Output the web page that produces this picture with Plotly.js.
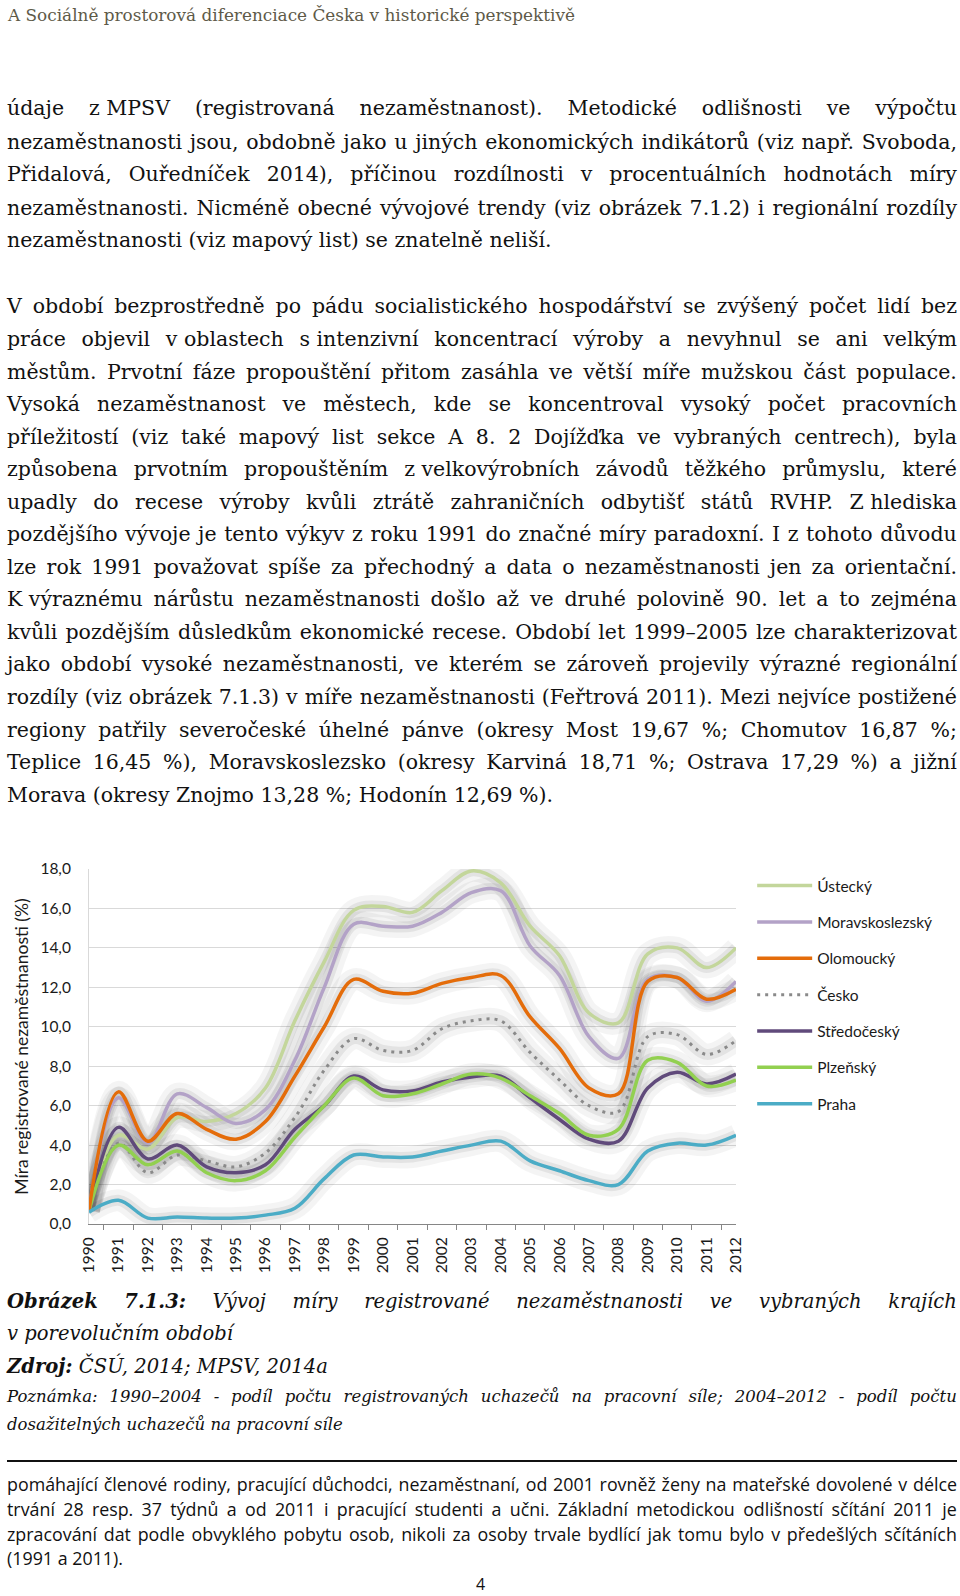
<!DOCTYPE html>
<html lang="cs">
<head>
<meta charset="utf-8">
<script src="https://cdn.plot.ly/plotly-3.0.1.min.js"></script>
<style>
  html, body { margin:0; padding:0; background:#fff; }
  body { width:960px; height:1596px; position:relative; overflow:hidden; }
  .ln { position:absolute; left:7px; width:950px; white-space:nowrap; color:#111; }
  .ln.j { display:flex; justify-content:space-between; }
  .hdr { font-family:"DejaVu Serif", serif; font-size:17px; color:#5e5a48; left:8px; }
  .body { font-family:"DejaVu Serif", serif; font-size:19px; }
  .cap { font-family:"DejaVu Serif", serif; font-size:19px; font-style:italic; }
  .note { font-family:"DejaVu Serif", serif; font-size:15px; font-style:italic; }
  .foot { font-family:"Open Sans", sans-serif; font-size:14px; }
  .pg { position:absolute; font-family:"Open Sans", sans-serif; font-size:16px; color:#111; }
  #rule { position:absolute; left:7px; top:1460px; width:950px; height:2px; background:#111; }
  #chart { position:absolute; left:0; top:840px; width:960px; height:450px; }
</style>
</head>
<body>
<div id="chart"></div>
<div id="rule"></div>
<div class="pg" style="left:476px;top:1573px;">4</div>
<script>
// ---------------- chart data ----------------
const years = ['1990','1991','1992','1993','1994','1995','1996','1997','1998','1999','2000','2001',
               '2002','2003','2004','2005','2006','2007','2008','2009','2010','2011','2012'];
const ustecky        = [0.7, 4.5, 3.8, 5.4, 5.2, 5.6, 6.9, 10.3, 13.3, 15.9, 16.1, 15.8, 16.9, 17.9, 17.3, 15.1, 13.6, 10.7, 10.2, 13.7, 14.0, 13.0, 14.0];
const moravskoslezsky= [0.7, 6.4, 4.1, 6.6, 5.9, 5.1, 5.8, 8.3, 12.0, 15.2, 15.1, 15.1, 15.8, 16.8, 16.9, 14.1, 12.6, 9.5, 8.4, 12.4, 12.5, 11.3, 12.3];
const olomoucky      = [0.7, 6.7, 4.2, 5.6, 4.8, 4.3, 5.2, 7.5, 10.0, 12.4, 11.8, 11.7, 12.2, 12.5, 12.6, 10.5, 8.9, 6.9, 6.6, 12.3, 12.5, 11.4, 11.9];
const cesko          = [0.7, 4.1, 2.6, 3.5, 3.2, 2.9, 3.6, 5.4, 7.8, 9.4, 8.8, 8.8, 9.9, 10.3, 10.3, 8.7, 7.3, 6.0, 5.7, 9.5, 9.6, 8.6, 9.3];
const stredocesky    = [0.7, 4.9, 3.3, 4.0, 2.9, 2.6, 3.0, 4.8, 6.0, 7.5, 6.8, 6.75, 7.2, 7.45, 7.5, 6.4, 5.3, 4.3, 4.2, 6.9, 7.7, 7.1, 7.6];
const plzensky       = [0.7, 4.0, 3.0, 3.7, 2.6, 2.2, 2.7, 4.4, 6.0, 7.4, 6.5, 6.6, 7.1, 7.6, 7.4, 6.5, 5.6, 4.5, 4.8, 8.3, 8.2, 7.0, 7.3];
const praha          = [0.6, 1.2, 0.3, 0.35, 0.3, 0.3, 0.45, 0.8, 2.3, 3.5, 3.4, 3.4, 3.7, 4.0, 4.2, 3.2, 2.7, 2.2, 2.0, 3.7, 4.1, 4.0, 4.5];
const seriesNames = ['Ústecký','Moravskoslezský','Olomoucký','Česko','Středočeský','Plzeňský','Praha'];
const seriesData  = [ustecky, moravskoslezsky, olomoucky, cesko, stredocesky, plzensky, praha];
const seriesColors= ['#c3d69b','#b3a2c7','#e46c0a','#8a8a8a','#604a7b','#92d050','#4bacc6'];
const axisTitle = 'Míra registrované nezaměstnanosti (%)';

// drawing order (bottom -> top), legend keeps seriesNames order
const drawOrder = [0, 1, 3, 4, 5, 2, 6];
const traces = [];
[[22,'rgba(0,0,0,0.045)'],[11,'rgba(0,0,0,0.065)']].forEach(([w,c]) => {
  drawOrder.forEach(i => traces.push({
    x: years, y: seriesData[i], type:'scatter', mode:'lines',
    line:{shape:'spline', smoothing:1, width:w, color:c},
    showlegend:false, hoverinfo:'skip'
  }));
});
drawOrder.forEach(i => traces.push({
  x: years, y: seriesData[i], type:'scatter', mode:'lines', name: seriesNames[i],
  legendgroup: seriesNames[i], legendrank: i + 1,
  line:{shape:'spline', smoothing:1, width: i === 3 ? 3 : 3.5, color: seriesColors[i],
        dash: i === 3 ? '3px,5px' : 'solid'},
  hoverinfo:'skip'
}));

const layout = {
  width:960, height:450,
  margin:{l:89, r:224, t:29, b:66, pad:0},
  paper_bgcolor:'rgba(0,0,0,0)', plot_bgcolor:'rgba(0,0,0,0)',
  separators:', ',
  font:{family:'Lato, sans-serif', size:15, color:'#1a1a1a'},
  xaxis:{type:'category', tickangle:-90, tickson:'boundaries', ticks:'outside', ticklen:5,
         tickcolor:'#868686', showline:true, linecolor:'#868686', linewidth:1, showgrid:false,
         tickfont:{size:15.5}, ticklabelstandoff:6, fixedrange:true},
  yaxis:{range:[0,18], dtick:2, tick0:0, tickformat:'.1f', showgrid:true, gridcolor:'#d9d9d9',
         gridwidth:1, zeroline:false, showline:true, linecolor:'#d9d9d9', ticks:'',
         tickfont:{size:15.5}, ticklabelstandoff:14, fixedrange:true,
         title:{text: axisTitle, font:{size:17.5}, standoff:7}},
  showlegend:true,
  legend:{x:1.025, xanchor:'left', y:1.0, yanchor:'top', font:{size:15.5},
          tracegroupgap:13.2, traceorder:'grouped', itemwidth:55, bgcolor:'rgba(0,0,0,0)'}
};
Plotly.newPlot('chart', traces, layout, {staticPlot:true, displayModeBar:false});

// ---------------- page text ----------------
const NB = '\u00a0';
const lines = [
  ['hdr', 14.5, 'A Sociálně prostorová diferenciace Česka v historické perspektivě', 'l', 567],
  ['body', 107.9, 'údaje z'+NB+'MPSV (registrovaná nezaměstnanost). Metodické odlišnosti ve výpočtu', 'j'],
  ['body', 141.5, 'nezaměstnanosti jsou, obdobně jako u jiných ekonomických indikátorů (viz např. Svoboda,', 'j'],
  ['body', 174.0, 'Přidalová, Ouředníček 2014), příčinou rozdílnosti v procentuálních hodnotách míry', 'j'],
  ['body', 207.6, 'nezaměstnanosti. Nicméně obecné vývojové trendy (viz obrázek 7.1.2) i regionální rozdíly', 'j'],
  ['body', 240.2, 'nezaměstnanosti (viz mapový list) se znatelně neliší.', 'l', 544],
];
const p2 = [
  ['V období bezprostředně po pádu socialistického hospodářství se zvýšený počet lidí bez','j'],
  ['práce objevil v'+NB+'oblastech s'+NB+'intenzivní koncentrací výroby a nevyhnul se ani velkým','j'],
  ['městům. Prvotní fáze propouštění přitom zasáhla ve větší míře mužskou část populace.','j'],
  ['Vysoká nezaměstnanost ve městech, kde se koncentroval vysoký počet pracovních','j'],
  ['příležitostí (viz také mapový list sekce A 8. 2 Dojížďka ve vybraných centrech), byla','j'],
  ['způsobena prvotním propouštěním z'+NB+'velkovýrobních závodů těžkého průmyslu, které','j'],
  ['upadly do recese výroby kvůli ztrátě zahraničních odbytišť států RVHP. Z'+NB+'hlediska','j'],
  ['pozdějšího vývoje je tento výkyv z roku 1991 do značné míry paradoxní. I z tohoto důvodu','j'],
  ['lze rok 1991 považovat spíše za přechodný a data o nezaměstnanosti jen za orientační.','j'],
  ['K'+NB+'výraznému nárůstu nezaměstnanosti došlo až ve druhé polovině 90. let a to zejména','j'],
  ['kvůli pozdějším důsledkům ekonomické recese. Období let 1999–2005 lze charakterizovat','j'],
  ['jako období vysoké nezaměstnanosti, ve kterém se zároveň projevily výrazné regionální','j'],
  ['rozdíly (viz obrázek 7.1.3) v míře nezaměstnanosti (Feřtrová 2011). Mezi nejvíce postižené','j'],
  ['regiony patřily severočeské úhelné pánve (okresy Most 19,67 %; Chomutov 16,87 %;','j'],
  ['Teplice 16,45 %), Moravskoslezsko (okresy Karviná 18,71 %; Ostrava 17,29 %) a jižní','j'],
  ['Morava (okresy Znojmo 13,28 %; Hodonín 12,69 %).','l', 547],
];
p2.forEach((r, i) => lines.push(['body', 306.4 + i * 32.55, r[0], r[1], r[2]]));
lines.push(
  ['cap', 1301.8, 'Obrázek 7.1.3: Vývoj míry registrované nezaměstnanosti ve vybraných krajích', 'j', 0, 2],
  ['cap', 1334.4, 'v porevolučním období', 'l', 229],
  ['cap', 1366.9, 'Zdroj: ČSÚ, 2014; MPSV, 2014a', 'l', 317, 1],
  ['note', 1397.4, 'Poznámka: 1990–2004 - podíl počtu registrovaných uchazečů na pracovní síle; 2004–2012 - podíl počtu', 'j'],
  ['note', 1424.9, 'dosažitelných uchazečů na pracovní síle', 'l', 336],
  ['foot', 1484.0, 'pomáhající členové rodiny, pracující důchodci, nezaměstnaní, od 2001 rovněž ženy na mateřské dovolené v délce', 'j'],
  ['foot', 1509.4, 'trvání 28 resp. 37 týdnů a od 2011 i pracující studenti a učni. Základní metodickou odlišností sčítání 2011 je', 'j'],
  ['foot', 1533.8, 'zpracování dat podle obvyklého pobytu osob, nikoli za osoby trvale bydlící jak tomu bylo v předešlých sčítáních', 'j'],
  ['foot', 1558.2, '(1991 a 2011).', 'l', 116]
);

const lh = 30;
const made = [];
lines.forEach(([cls, yc, text, mode, target, boldN]) => {
  const d = document.createElement('div');
  d.className = 'ln ' + cls + (mode === 'j' ? ' j' : '');
  d.style.top = (yc - lh / 2) + 'px';
  d.style.height = lh + 'px';
  d.style.lineHeight = lh + 'px';
  const words = text.split(' ');
  words.forEach((w, k) => {
    const s = document.createElement(k < (boldN || 0) ? 'b' : 'span');
    s.textContent = w;
    d.appendChild(s);
    if (mode !== 'j' && k < words.length - 1) d.appendChild(document.createTextNode(' '));
  });
  document.body.appendChild(d);
  made.push({d, cls, text, mode, target});
});
// scale each text style so its width matches the original typeface
const factors = {};
made.filter(m => m.mode === 'l' && m.target).forEach(m => {
  const probe = document.createElement('span');
  probe.style.display = 'inline-block';
  probe.innerHTML = m.d.innerHTML;
  m.d.innerHTML = '';
  m.d.appendChild(probe);
  const w = probe.getBoundingClientRect().width;
  m.d.innerHTML = probe.innerHTML;
  (factors[m.cls] = factors[m.cls] || []).push(m.target / w);
});
made.forEach(m => {
  const arr = factors[m.cls];
  if (arr) {
    const f = arr.reduce((a, b) => a + b, 0) / arr.length;
    const base = parseFloat(getComputedStyle(m.d).fontSize);
    m.d.style.fontSize = (base * f).toFixed(2) + 'px';
  }
});
</script>
</body>
</html>
